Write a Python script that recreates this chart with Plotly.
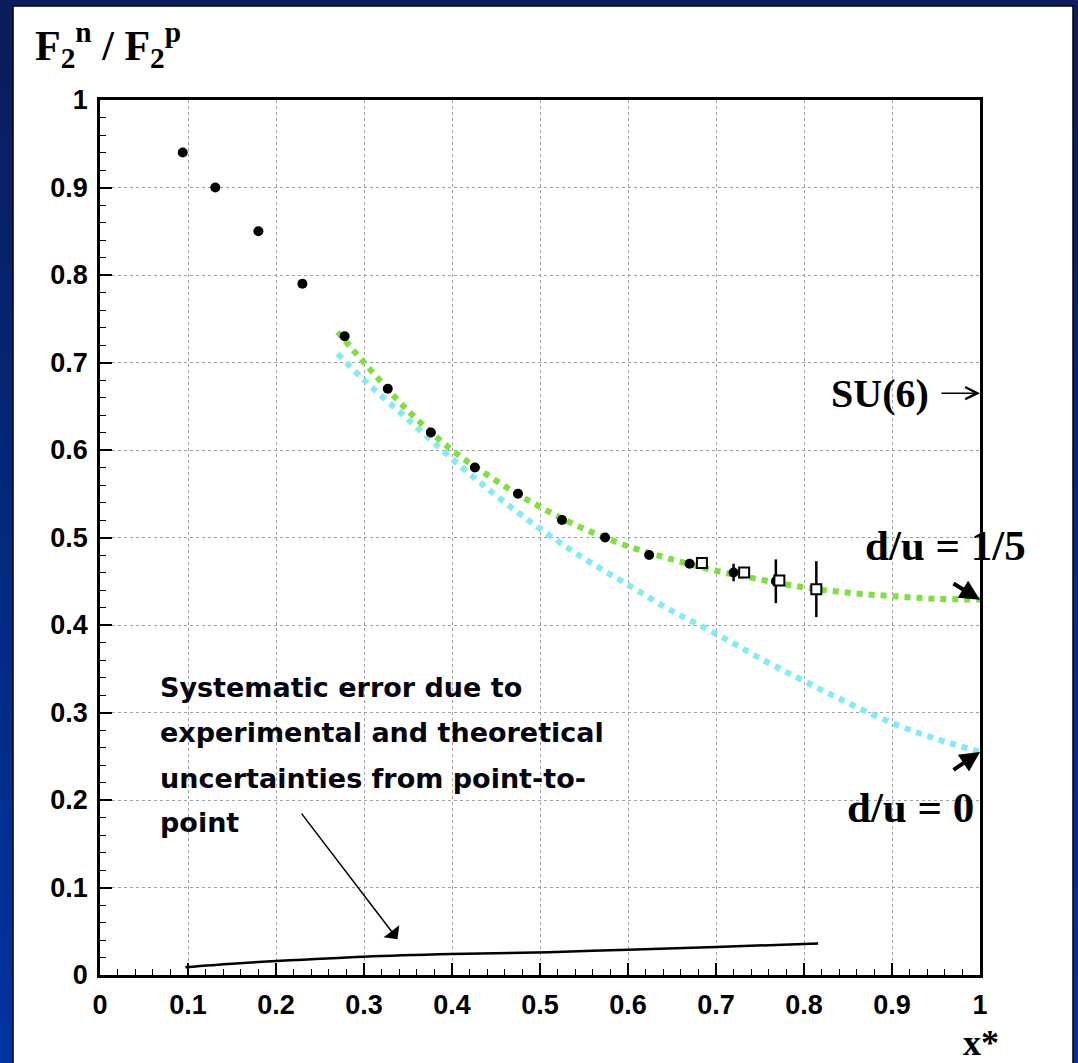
import plotly.graph_objects as go

# ---- data ----
dots_x = [0.094, 0.131, 0.18, 0.23, 0.278, 0.327, 0.376, 0.426, 0.475, 0.525, 0.574, 0.624, 0.67, 0.72, 0.768]
dots_y = [0.94, 0.90, 0.85, 0.79, 0.73, 0.67, 0.62, 0.58, 0.55, 0.52, 0.50, 0.48, 0.47, 0.46, 0.45]
dots_err = [0, 0, 0, 0, 0, 0, 0, 0, 0, 0, 0, 0, 0, 0.01, 0.025]

sq_x = [0.684, 0.732, 0.772, 0.814]
sq_y = [0.471, 0.46, 0.451, 0.441]
sq_err = [0.004, 0.004, 0.006, 0.032]

curve_x = [0.27, 0.30, 0.35, 0.40, 0.45, 0.50, 0.55, 0.60, 0.65, 0.70, 0.75, 0.80, 0.85, 0.90, 0.95, 1.00]
du15_y = [0.735, 0.70, 0.645, 0.60, 0.565, 0.535, 0.51, 0.49, 0.475, 0.462, 0.452, 0.443, 0.437, 0.433, 0.430, 0.429]
du0_y = [0.71, 0.68, 0.635, 0.59, 0.548, 0.51, 0.476, 0.446, 0.416, 0.39, 0.362, 0.336, 0.311, 0.288, 0.27, 0.255]

sys_x = [0.097, 0.15, 0.20, 0.30, 0.40, 0.51, 0.60, 0.70, 0.816]
sys_y = [0.009, 0.013, 0.016, 0.021, 0.024, 0.026, 0.029, 0.032, 0.036]

ticks = [0, 0.1, 0.2, 0.3, 0.4, 0.5, 0.6, 0.7, 0.8, 0.9, 1]
tick_text = ["0", "0.1", "0.2", "0.3", "0.4", "0.5", "0.6", "0.7", "0.8", "0.9", "1"]

fig = go.Figure()

fig.add_trace(go.Scatter(x=curve_x, y=du0_y, mode="lines", line_shape="spline",
                         line=dict(color="#80ecf8", width=6, dash="dot"), hoverinfo="skip"))
fig.add_trace(go.Scatter(x=curve_x, y=du15_y, mode="lines", line_shape="spline",
                         line=dict(color="#7ee03a", width=6, dash="dot"), hoverinfo="skip"))
fig.add_trace(go.Scatter(x=sys_x, y=sys_y, mode="lines", line_shape="spline",
                         line=dict(color="black", width=2.5)))
fig.add_trace(go.Scatter(x=dots_x, y=dots_y, mode="markers",
                         marker=dict(color="black", size=10),
                         error_y=dict(type="data", array=dots_err, color="black", thickness=2.5, width=0)))
fig.add_trace(go.Scatter(x=sq_x, y=sq_y, mode="markers",
                         marker=dict(color="white", symbol="square", size=10, line=dict(color="black", width=2)),
                         error_y=dict(type="data", array=sq_err, color="black", thickness=2.5, width=0)))

# background gradient + white panel
W, H = 1078, 1063
L, R, T, B = 100, 98, 100, 88
pw, ph = W - L - R, H - T - B
def px(xp):
    return (xp - L) / pw
def py(yp):
    return (H - B - yp) / ph

shapes = []
n = 24
c0 = (10, 30, 92)
c1 = (0, 52, 160)
for i in range(n):
    t = i / (n - 1)
    col = "rgb(%d,%d,%d)" % tuple(int(c0[k] + (c1[k] - c0[k]) * t) for k in range(3))
    shapes.append(dict(type="rect", xref="paper", yref="paper", layer="below",
                       x0=px(-5), x1=px(W + 5), y0=py(H * (i + 1) / n + 1), y1=py(H * i / n),
                       fillcolor=col, line=dict(width=0)))
shapes.append(dict(type="rect", xref="paper", yref="paper", layer="below",
                   x0=px(13), x1=px(1073), y0=py(1075), y1=py(6),
                   fillcolor="white", line=dict(color="black", width=1.5)))

serif = "Liberation Serif, Times New Roman, serif"
sans = "Liberation Sans, Arial, sans-serif"
ann = []
ann.append(dict(xref="paper", yref="paper", x=px(33), y=py(45), xanchor="left", yanchor="middle",
                text="F<sub>2</sub><sup>n</sup> / F<sub>2</sub><sup>p</sup>", showarrow=False,
                font=dict(family=serif, size=42, color="black", weight="bold")))
ann.append(dict(xref="paper", yref="paper", x=px(981), y=py(1043), xanchor="center", yanchor="middle",
                text="x*", showarrow=False, font=dict(family=serif, size=36, color="black", weight="bold")))
ann.append(dict(xref="paper", yref="paper", x=px(880), y=py(393), xanchor="center", yanchor="middle",
                text="SU(6)", showarrow=False, font=dict(family=serif, size=40, color="black", weight="bold")))
ann.append(dict(xref="x", yref="y", x=1.0, y=0.665, ax=-40, ay=0, text="", showarrow=True,
                arrowhead=5, arrowsize=1.6, arrowwidth=1.5, arrowcolor="black"))
ann.append(dict(xref="paper", yref="paper", x=px(945), y=py(545), xanchor="center", yanchor="middle",
                text="d/u = 1/5", showarrow=False, font=dict(family=serif, size=43, color="black", weight="bold")))
ann.append(dict(xref="x", yref="y", x=1.0, y=0.429, ax=-28, ay=-17, text="", showarrow=True,
                arrowhead=2, arrowsize=1.0, arrowwidth=4, arrowcolor="black"))
ann.append(dict(xref="paper", yref="paper", x=px(910), y=py(807), xanchor="center", yanchor="middle",
                text="d/u = 0", showarrow=False, font=dict(family=serif, size=43, color="black", weight="bold")))
ann.append(dict(xref="x", yref="y", x=1.0, y=0.255, ax=-28, ay=19, text="", showarrow=True,
                arrowhead=2, arrowsize=1.0, arrowwidth=4, arrowcolor="black"))
lines = ["Systematic error due to", "experimental and theoretical",
         "uncertainties from point-to-", "point"]
ys = [688, 732, 778, 822]
for s, yy in zip(lines, ys):
    ann.append(dict(xref="paper", yref="paper", x=px(158), y=py(yy), xanchor="left", yanchor="middle",
                    text=s, showarrow=False,
                    font=dict(family="DejaVu Sans, sans-serif", size=27, color="#05050f", weight="bold")))
ann.append(dict(xref="x", yref="y", x=0.338, y=0.041, ax=-97, ay=-127, text="", showarrow=True,
                arrowhead=1, arrowsize=2.2, arrowwidth=1.5, arrowcolor="black"))

axis_common = dict(range=[0, 1], tickvals=ticks, ticktext=tick_text, ticks="inside", ticklen=12,
                   tickwidth=1.5, tickcolor="black", showline=True, linecolor="black", linewidth=2.5,
                   mirror=True, showgrid=True, gridcolor="#a0a0a0", griddash="dot", gridwidth=1,
                   zeroline=False, tickfont=dict(family=sans, size=27, color="black", weight="bold"),
                   minor=dict(ticks="inside", ticklen=6, dtick=0.02, tickcolor="black", tickwidth=1,
                              showgrid=False))
fig.update_xaxes(**axis_common, ticklabelstandoff=4)
fig.update_yaxes(**axis_common, ticklabelstandoff=4)

fig.update_layout(width=W, height=H, margin=dict(l=L, r=R, t=T, b=B, pad=0),
                  paper_bgcolor="rgb(5,40,120)", plot_bgcolor="white", showlegend=False,
                  shapes=shapes, annotations=ann)

fig.write_html("out.html")
